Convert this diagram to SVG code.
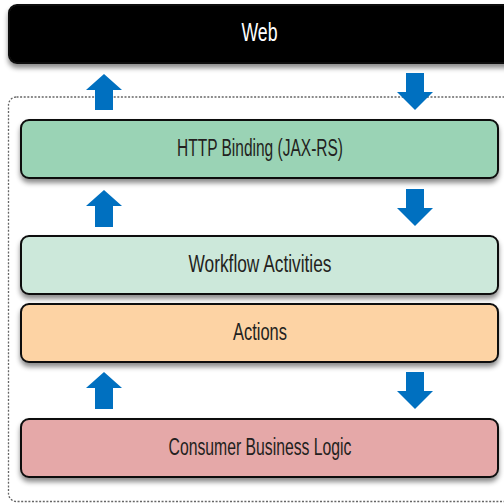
<svg xmlns="http://www.w3.org/2000/svg" width="504" height="503" viewBox="0 0 504 503">
  <defs>
    <filter id="shadow" x="-5%" y="-20%" width="110%" height="160%">
      <feDropShadow dx="0" dy="4" stdDeviation="2.5" flood-color="#000" flood-opacity="0.45"/>
    </filter>
  </defs>
  <style>
    .box { stroke: #111; stroke-width: 2; filter: url(#shadow); }
    .lbl { font-family: "Liberation Sans", Arial, sans-serif; font-size: 23px; fill: #231f20; text-anchor: middle; }
    .arrow { fill: #0070c0; }
    .container { fill: none; stroke: #666; stroke-width: 1.3; stroke-dasharray: 2 1.6; }
  </style>
  <rect width="504" height="503" fill="#fff"/>

  <g id="container">
    <rect class="container" x="8.5" y="97" width="520" height="404.5" rx="8" ry="8"/>
  </g>

  <g id="web">
    <rect class="box" x="9" y="5" width="520" height="58" rx="8" ry="8" fill="#000" stroke="#000"/>
    <text class="lbl" x="259.5" y="41" style="fill:#fff;font-size:26px" textLength="36" lengthAdjust="spacingAndGlyphs">Web</text>
  </g>

  <g id="http-binding">
    <rect class="box" x="21" y="120" width="477" height="58" rx="8" ry="8" fill="#9ad3b5"/>
    <text class="lbl" x="260" y="156" textLength="166" lengthAdjust="spacingAndGlyphs">HTTP Binding (JAX-RS)</text>
  </g>

  <g id="workflow-activities">
    <rect class="box" x="21" y="236" width="477" height="58" rx="8" ry="8" fill="#cce8da"/>
    <text class="lbl" x="260" y="272" textLength="143" lengthAdjust="spacingAndGlyphs">Workflow Activities</text>
  </g>

  <g id="actions">
    <rect class="box" x="21" y="304" width="477" height="58" rx="8" ry="8" fill="#fdd3a4"/>
    <text class="lbl" x="260" y="340" textLength="54" lengthAdjust="spacingAndGlyphs">Actions</text>
  </g>

  <g id="consumer-business-logic">
    <rect class="box" x="21" y="419" width="477" height="58" rx="8" ry="8" fill="#e5a8a8"/>
    <text class="lbl" x="260" y="455" textLength="183" lengthAdjust="spacingAndGlyphs">Consumer Business Logic</text>
  </g>

  <g id="connectors">
    <polygon class="arrow" points="104,74 122,90 113,90 113,110 95,110 95,90 86,90"/>
    <polygon class="arrow" points="406,73 424,73 424,92 433,92 415,110 397,92 406,92"/>
    <polygon class="arrow" points="104,190 122,206 113,206 113,227 95,227 95,206 86,206"/>
    <polygon class="arrow" points="406,189 424,189 424,208 433,208 415,226 397,208 406,208"/>
    <polygon class="arrow" points="104,372 122,388 113,388 113,409 95,409 95,388 86,388"/>
    <polygon class="arrow" points="406,372 424,372 424,391 433,391 415,409 397,391 406,391"/>
  </g>
</svg>
